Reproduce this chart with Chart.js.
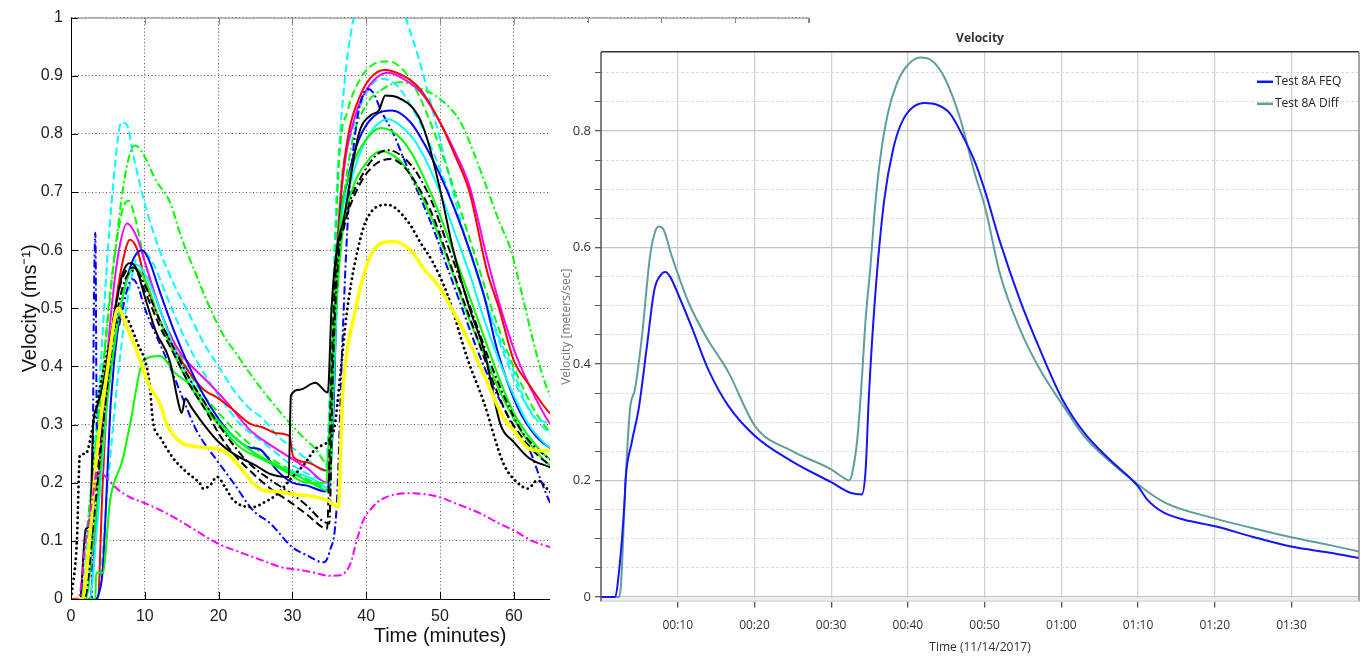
<!DOCTYPE html>
<html>
<head>
<meta charset="utf-8">
<script src="https://cdn.jsdelivr.net/npm/chart.js@4.4.0/dist/chart.umd.min.js"></script>
<style>
  body { margin: 0; background: #fff; width: 1367px; height: 662px; overflow: hidden; position: relative; }
  #left { position: absolute; left: 0; top: 0; }
  #panel { position: absolute; left: 550px; top: 23px; width: 817px; height: 639px; background: #fff; }
</style>
</head>
<body>
<canvas id="left" width="817" height="662"></canvas>
<div id="panel"><canvas id="right" width="817" height="639"></canvas></div>
<script>
// ---- left plot: measured runs (time in minutes, velocity m/s) ----
const redT = [0,3.6,4.3,4.9,6,7,8,9,10,12,14,16,18,20,22,24.3,26,28,29.6,30.1,32,34.7,35.4,35.9,36.6,37.6,39,40.5,42.5,45,47.3,50,52,54,56.4,58,60,62,65,66];
const redV = [0,0,0.2,0.35,0.5,0.58,0.618,0.6,0.55,0.48,0.43,0.39,0.36,0.345,0.325,0.301,0.295,0.285,0.28,0.245,0.235,0.221,0.3,0.55,0.7,0.8,0.86,0.895,0.91,0.9,0.877,0.82,0.764,0.7,0.563,0.5,0.41,0.37,0.318,0.31];

const magentaT = [0,2.5,3.5,4.5,5.5,6.5,7.6,9,10,12,13.4,15,18.4,21,24.3,27,29.7,32,34.7,35.5,36.2,37,38.5,40,43,45,47.5,50,52,54,56.5,58,60,62,65,66];
const magentaV = [0,0,0.15,0.35,0.5,0.6,0.646,0.62,0.58,0.5,0.455,0.42,0.375,0.34,0.29,0.265,0.243,0.225,0.2,0.35,0.62,0.74,0.83,0.875,0.905,0.895,0.87,0.82,0.77,0.71,0.58,0.51,0.43,0.37,0.3,0.29];

const magentaDdT = [0,1,2,3,3.5,4.3,6.2,8,10,13,16,19.8,23,26,28.4,31,33,35,36.5,37.9,38.7,39.6,41,41.9,44,46.4,48,50,52,55.5,58,60,62.5,65,66];
const magentaDdV = [0,0,0.1,0.18,0.22,0.215,0.19,0.175,0.165,0.147,0.125,0.096,0.08,0.066,0.055,0.05,0.045,0.04,0.041,0.062,0.1,0.135,0.16,0.17,0.18,0.182,0.18,0.175,0.165,0.147,0.13,0.118,0.1,0.089,0.085];

const blueT = [0,3.3,3.9,4.3,5.4,6.5,8,9.6,10.5,12,14,16,18,20,22,24.3,25.5,28,30,32,34.5,35.5,36.2,37.5,39,41,43.5,46,48,50,52,54,56,57.8,60.5,63,66];
const blueV = [0,0,0.015,0.05,0.34,0.48,0.57,0.6,0.585,0.53,0.46,0.4,0.35,0.31,0.28,0.26,0.258,0.22,0.2,0.195,0.185,0.3,0.6,0.72,0.79,0.83,0.84,0.82,0.78,0.73,0.67,0.6,0.52,0.426,0.33,0.28,0.25];

const blueDdT = [0,2.8,3.1,3.3,3.5,4,5,6.5,8.3,9,10,12,13.4,15,17,19.8,22,24.7,27,30,32,34.2,35,36,36.8,37.5,38.5,40.2,41,42,43.7,45,47,49,51,53,55,57,59,60.5,62,63.5,65,66];
const blueDdV = [0,0,0.5,0.63,0.3,0.28,0.38,0.47,0.55,0.54,0.5,0.44,0.4,0.35,0.29,0.238,0.2,0.152,0.13,0.089,0.075,0.063,0.08,0.16,0.45,0.65,0.8,0.877,0.87,0.84,0.8,0.76,0.7,0.64,0.57,0.5,0.43,0.37,0.32,0.28,0.26,0.21,0.164,0.15];

const cyanT = [0,2.5,3.5,5,7,9,10,12,14,16,18,20,23,26,30,33,35,35.7,36.3,38,40,43,45,47,50,52,54,56,58,60,62,64,66];
const cyanV = [0,0,0.12,0.35,0.52,0.575,0.56,0.5,0.43,0.38,0.34,0.3,0.27,0.24,0.22,0.205,0.19,0.4,0.6,0.72,0.79,0.825,0.81,0.78,0.7,0.63,0.56,0.48,0.41,0.35,0.3,0.27,0.25];

const cyanDash1T = [0,1.5,2.5,4,5,6,6.8,7.6,8.5,10,12,14,16,18,20,22,24,26,28,30,32,34.5,35.3,36,37,38.3,40,42,44,45.6,47,49,51,53,55,57,59,61,63,66];
const cyanDash1V = [0,0,0.15,0.4,0.6,0.75,0.82,0.815,0.76,0.68,0.6,0.54,0.49,0.44,0.4,0.36,0.33,0.31,0.28,0.26,0.24,0.22,0.45,0.7,0.88,1.0,1.06,1.08,1.06,0.99,0.935,0.84,0.74,0.64,0.56,0.48,0.41,0.35,0.31,0.27];

const cyanDash2T = [0,3.5,5,6.5,8,9.5,11,13,15,17,20,23,26,30,33,35,35.7,36.5,38,40,42,44,46,48,50,52,54,56,58,60,62.3,65,66];
const cyanDash2V = [0,0,0.2,0.4,0.54,0.6,0.58,0.52,0.46,0.41,0.35,0.3,0.27,0.23,0.21,0.2,0.5,0.7,0.8,0.87,0.895,0.885,0.85,0.8,0.74,0.67,0.6,0.52,0.45,0.39,0.32,0.3,0.29];

const greenDashT = [0,1.5,2.5,4,5.5,7,7.8,8.6,10,12,14,16,18,20,23,26,30,33,35,35.6,36.3,37.5,39,41,43,45,47,49,51,53,55,57,59,61,63,66];
const greenDashV = [0,0,0.12,0.35,0.55,0.67,0.685,0.66,0.58,0.5,0.44,0.39,0.35,0.32,0.28,0.25,0.22,0.2,0.19,0.5,0.75,0.84,0.89,0.92,0.925,0.91,0.87,0.81,0.74,0.66,0.58,0.5,0.43,0.37,0.32,0.27];

const greenDdT = [0,1.2,2,4,6,7.5,8.7,10,11.5,13.4,15,16.6,18.5,20.6,22.5,24.3,27.4,31,33,35,35.8,36.7,38,40,42,44.6,47,50,52.8,54.5,56.4,58,59.6,61,62.5,64,66];
const greenDdV = [0,0,0.1,0.35,0.6,0.74,0.78,0.76,0.72,0.683,0.62,0.569,0.51,0.455,0.42,0.387,0.336,0.284,0.26,0.23,0.45,0.65,0.78,0.85,0.875,0.889,0.88,0.86,0.82,0.77,0.705,0.65,0.6,0.53,0.45,0.38,0.32];

const greenT = [0,2,3,5,7,8.5,10,12,14,16,18,20,23,26,29,32,34.5,35.5,36.5,38,40,42,44,46,48,50,52,54,56,58,60,62,64,66];
const greenV = [0,0,0.1,0.35,0.52,0.57,0.55,0.48,0.42,0.37,0.33,0.3,0.26,0.24,0.22,0.2,0.2,0.45,0.65,0.74,0.79,0.81,0.8,0.77,0.72,0.66,0.59,0.52,0.45,0.38,0.32,0.28,0.25,0.23];

const greenSlowT = [0,3.3,3.4,4.3,5.3,7,8,9.8,12.1,14,16.6,19,22,25,28,31,34,35,35.7,36.7,38,40,42,44,46,48,50,52,54,56,58,60,62,64,66];
const greenSlowV = [0,0,0.045,0.045,0.17,0.24,0.3,0.41,0.418,0.39,0.363,0.32,0.28,0.25,0.23,0.21,0.19,0.185,0.45,0.62,0.7,0.75,0.77,0.76,0.73,0.68,0.62,0.55,0.48,0.42,0.36,0.31,0.27,0.24,0.22];

const blackT = [0,1.2,2,2.6,3,3.5,4.5,6,7,8,8.8,10,11.5,13.4,14.5,15,15.5,16.3,18,20,22,25,27,29.5,29.8,31,33.1,34.8,35.3,36,36.9,39,40.6,41.7,42.6,44.2,47,48.3,50,51.8,54,56,58.2,60,62,65,66];
const blackV = [0,0,0.12,0.13,0.3,0.33,0.38,0.5,0.56,0.578,0.57,0.52,0.46,0.409,0.34,0.32,0.345,0.33,0.3,0.27,0.25,0.23,0.215,0.21,0.35,0.36,0.372,0.355,0.5,0.6,0.65,0.8,0.832,0.84,0.866,0.863,0.832,0.79,0.705,0.6,0.5,0.426,0.3,0.27,0.243,0.226,0.22];

const blackDashT = [0,1.5,3,4.5,6,7.5,8.5,10,12,14,16,18,20,22,24.3,27,30,32,34.7,35.2,35.8,37,39,41,43.3,45,47,49,51,53,55,57,59,61,63,66];
const blackDashV = [0,0,0.15,0.35,0.5,0.565,0.57,0.53,0.47,0.42,0.37,0.33,0.285,0.25,0.22,0.19,0.164,0.145,0.121,0.35,0.55,0.64,0.71,0.745,0.757,0.745,0.71,0.66,0.59,0.52,0.45,0.38,0.32,0.28,0.25,0.22];

const blackDdT = [0,1.8,3.2,4.7,6.2,7.8,8.8,10,12,14,16,18,20,22,24,27,30,32,34,35,35.5,36.2,37.5,39.5,41.5,43,45,47,49,51,53,55,57,59,61,63,66];
const blackDdV = [0,0,0.15,0.34,0.49,0.56,0.565,0.54,0.48,0.43,0.38,0.34,0.3,0.265,0.235,0.205,0.18,0.16,0.135,0.13,0.4,0.58,0.67,0.73,0.765,0.772,0.76,0.73,0.68,0.61,0.54,0.47,0.4,0.34,0.29,0.26,0.23];

const blackDotT = [0,0.8,1.2,2,3,4.5,6,7,7.6,9,10.3,10.7,11.1,12.1,13.8,15.5,17.5,17.9,18.8,19.8,21,22,24.7,26,27.9,30,31.5,33.3,35.6,36.5,37.4,38.5,40.1,42.9,45.6,47.5,49,51,53.7,55.9,58.6,60.5,61.9,63.2,64.5,66];
const blackDotV = [0,0.1,0.247,0.25,0.3,0.4,0.47,0.49,0.483,0.44,0.397,0.363,0.306,0.278,0.243,0.22,0.198,0.19,0.195,0.21,0.19,0.17,0.158,0.165,0.18,0.21,0.23,0.26,0.29,0.387,0.495,0.58,0.654,0.678,0.65,0.61,0.58,0.524,0.414,0.34,0.233,0.2,0.19,0.204,0.19,0.17];

const yellowT = [0,1.5,2.5,3.5,5,6.4,7.5,8.5,9.4,10.5,12.1,13,14,15.2,17,18.4,20,21.2,23,24.7,26,28,30,32,34.7,36.2,36.8,37.4,38.3,39.5,41,43.6,46,48,49.7,52,54.1,56.5,58.6,60,61.9,63.5,65,66];
const yellowV = [0,0,0.1,0.25,0.4,0.5,0.47,0.44,0.409,0.37,0.335,0.3,0.28,0.267,0.262,0.26,0.258,0.25,0.225,0.199,0.187,0.185,0.18,0.178,0.17,0.158,0.35,0.426,0.483,0.55,0.6,0.615,0.6,0.565,0.54,0.49,0.438,0.37,0.312,0.29,0.26,0.255,0.255,0.25];

// ---- right plot: Test 8A (time in minutes from start) ----
const feqTime = [0,1.8,2.4,3.1,3.2,4.0,4.9,6.0,6.95,7.8,8.4,9.0,10.3,11.8,14.0,16.6,20.1,25.0,30.0,32.5,34.0,34.5,34.9,35.7,36.9,38.1,39.4,42.2,43.8,45.5,47.4,48.8,50.1,52.0,54.6,57.2,60.1,63.1,66.3,70.0,71.2,73.3,75.9,80.2,85.0,90.1,95.0,98.8];
const feqVel = [0,0,0.05,0.172,0.2,0.265,0.322,0.432,0.527,0.553,0.558,0.55,0.512,0.464,0.39,0.328,0.276,0.232,0.197,0.179,0.176,0.22,0.34,0.51,0.68,0.77,0.82,0.848,0.845,0.83,0.785,0.745,0.695,0.61,0.51,0.425,0.34,0.28,0.236,0.19,0.167,0.145,0.133,0.121,0.103,0.086,0.076,0.067];
const diffTime = [0,2.26,2.6,3.1,3.2,3.78,4.43,5.3,6.4,7.0,7.5,8.1,9.2,11.4,13.6,16.6,20.1,25.0,30.0,31.8,32.3,32.7,33.4,34.0,34.5,35.1,35.7,36.4,37.4,38.6,39.9,41.6,43.1,44.8,46.8,48.7,50.1,52.0,54.6,57.2,60.1,63.1,66.3,70.0,73.5,80.2,85.0,90.1,95.0,98.8];
const diffVel = [0,0,0.02,0.17,0.2,0.322,0.357,0.443,0.586,0.625,0.636,0.632,0.586,0.506,0.449,0.386,0.293,0.25,0.219,0.203,0.2,0.21,0.27,0.374,0.478,0.564,0.667,0.753,0.831,0.883,0.912,0.926,0.921,0.891,0.822,0.728,0.667,0.555,0.46,0.391,0.331,0.274,0.233,0.193,0.162,0.134,0.118,0.102,0.089,0.078];

const rightXTicks = [10, 20, 30, 40, 50, 60, 70, 80, 90];
const rightYTicks = [0, 0.05, 0.1, 0.15, 0.2, 0.25, 0.3, 0.35, 0.4, 0.45, 0.5, 0.55, 0.6, 0.65, 0.7, 0.75, 0.8, 0.85, 0.9];
const rightYLabels = [0, 0.2, 0.4, 0.6, 0.8];

const pts = (t, v) => t.map((x, i) => ({ x: x, y: v[i] }));

const DASH = [8, 4];
const DASHDOT = [8, 3, 2, 3];
const DOT = [0.1, 5];

// drawing order: first = bottom
const leftSeries = [
  { t: cyanDash1T, v: cyanDash1V, color: '#00ffff', dash: DASH },
  { t: greenDdT, v: greenDdV, color: '#00ff00', dash: DASHDOT },
  { t: greenDashT, v: greenDashV, color: '#00ff00', dash: DASH },
  { t: cyanDash2T, v: cyanDash2V, color: '#00ffff', dash: DASH },
  { t: magentaT, v: magentaV, color: '#ff00ff', dash: [] },
  { t: redT, v: redV, color: '#ff0000', dash: [] },
  { t: blueT, v: blueV, color: '#0000ff', dash: [] },
  { t: blueDdT, v: blueDdV, color: '#0000ff', dash: DASHDOT },
  { t: cyanT, v: cyanV, color: '#00ffff', dash: [] },
  { t: greenT, v: greenV, color: '#00ff00', dash: [] },
  { t: greenSlowT, v: greenSlowV, color: '#00ff00', dash: [] },
  { t: blackDdT, v: blackDdV, color: '#000000', dash: DASHDOT },
  { t: blackDashT, v: blackDashV, color: '#000000', dash: DASH },
  { t: blackT, v: blackV, color: '#000000', dash: [] },
  { t: blackDotT, v: blackDotV, color: '#000000', dash: DOT, width: 2.8 },
  { t: yellowT, v: yellowV, color: '#ffff00', dash: [], width: 3.5 },
  { t: magentaDdT, v: magentaDdV, color: '#ff00ff', dash: DASHDOT }
];

// box + inward ticks like matlab
const matlabBox = {
  id: 'matlabBox',
  afterDraw(chart) {
    const { ctx, chartArea: a, scales: { x, y } } = chart;
    ctx.save();
    ctx.lineWidth = 1;
    ctx.strokeStyle = '#888';
    ctx.beginPath();
    ctx.moveTo(a.left, a.top + 0.5);
    ctx.lineTo(a.right - 0.5, a.top + 0.5);
    ctx.lineTo(a.right - 0.5, a.bottom);
    ctx.stroke();
    x.ticks.forEach(t => {
      const px = Math.round(x.getPixelForValue(t.value)) + 0.5;
      ctx.beginPath(); ctx.moveTo(px, a.top); ctx.lineTo(px, a.top + 7); ctx.stroke();
    });
    ctx.strokeStyle = '#000';
    ctx.beginPath();
    ctx.moveTo(a.left + 0.5, a.top);
    ctx.lineTo(a.left + 0.5, a.bottom + 0.5);
    ctx.lineTo(a.right, a.bottom + 0.5);
    ctx.stroke();
    x.ticks.forEach(t => {
      const px = Math.round(x.getPixelForValue(t.value)) + 0.5;
      ctx.beginPath(); ctx.moveTo(px, a.bottom); ctx.lineTo(px, a.bottom - 7); ctx.stroke();
    });
    y.ticks.forEach(t => {
      const py = Math.round(y.getPixelForValue(t.value)) + 0.5;
      ctx.beginPath(); ctx.moveTo(a.left, py); ctx.lineTo(a.left + 7, py); ctx.stroke();
    });
    ctx.restore();
  }
};

new Chart(document.getElementById('left'), {
  type: 'line',
  data: {
    datasets: leftSeries.map(s => ({
      data: pts(s.t, s.v),
      borderColor: s.color,
      borderWidth: s.width || 2,
      borderDash: s.dash,
      borderCapStyle: s.dash === DOT ? 'round' : 'butt',
      pointRadius: 0,
      cubicInterpolationMode: 'monotone',
      fill: false
    })).reverse()
  },
  options: {
    responsive: false,
    animation: false,
    devicePixelRatio: 1,
    layout: { padding: { left: 0, top: 15, right: 2, bottom: 0 } },
    plugins: { legend: { display: false }, tooltip: { enabled: false } },
    scales: {
      x: {
        type: 'linear', min: 0, max: 100,
        afterFit: s => { s.height = 63; },
        ticks: {
          stepSize: 10, padding: 8, maxRotation: 0, autoSkip: false,
          color: '#222', font: { family: 'Liberation Sans', size: 16 },
          callback: v => (v <= 60 ? String(v) : '')
        },
        grid: { color: '#555', lineWidth: 1, drawTicks: false },
        border: { display: false, dash: [1, 2.5] },
        title: { display: true, text: 'Time (minutes)', color: '#111', font: { family: 'Liberation Sans', size: 20 }, padding: { bottom: 14 } }
      },
      y: {
        min: 0, max: 1,
        afterFit: s => { s.width = 71; },
        ticks: {
          stepSize: 0.1, padding: 8, autoSkip: false,
          color: '#222', font: { family: 'Liberation Sans', size: 16 },
          callback: v => String(+v.toFixed(1))
        },
        grid: { color: '#555', lineWidth: 1, drawTicks: false },
        border: { display: false, dash: [1, 2.5] },
        title: { display: true, text: 'Velocity (ms\u207B\u00B9)', color: '#111', font: { family: 'Liberation Sans', size: 20 }, padding: { top: 18 } }
      }
    }
  },
  plugins: [matlabBox]
});

// ---- right chart ----
const isMajor = v => rightYLabels.some(m => Math.abs(m - v) < 1e-6);
const hhmm = m => {
  const h = Math.floor(m / 60), mm = Math.round(m % 60);
  return String(h).padStart(2, '0') + ':' + String(mm).padStart(2, '0');
};

const panelFrame = {
  id: 'panelFrame',
  beforeDatasetsDraw(chart) {
    const { ctx, chartArea: a, scales: { y } } = chart;
    const y0 = y.getPixelForValue(0);
    ctx.save();
    ctx.fillStyle = '#eeeeee';
    ctx.fillRect(a.left, y0 + 1, a.right - a.left, a.bottom - y0 - 1);
    ctx.restore();
  },
  afterDraw(chart) {
    const { ctx, chartArea: a } = chart;
    ctx.save();
    ctx.lineWidth = 1.5;
    ctx.strokeStyle = '#333';
    ctx.beginPath(); ctx.moveTo(a.left, a.top); ctx.lineTo(a.right, a.top); ctx.stroke();
    ctx.strokeStyle = '#555';
    ctx.beginPath(); ctx.moveTo(a.left, a.top); ctx.lineTo(a.left, a.bottom); ctx.stroke();
    ctx.strokeStyle = '#888';
    ctx.beginPath(); ctx.moveTo(a.right, a.top); ctx.lineTo(a.right, a.bottom); ctx.stroke();
    ctx.strokeStyle = '#cfcfcf';
    ctx.lineWidth = 1;
    ctx.beginPath(); ctx.moveTo(a.left, a.bottom - 0.5); ctx.lineTo(a.right, a.bottom - 0.5); ctx.stroke();
    // legend, top right inside the plot
    ctx.font = '12px "Open Sans"';
    ctx.textBaseline = 'middle';
    ctx.fillStyle = '#222';
    chart.data.datasets.forEach((ds, i) => {
      const ly = a.top + 30 + i * 22;
      ctx.strokeStyle = ds.borderColor;
      ctx.lineWidth = 2.5;
      ctx.beginPath(); ctx.moveTo(a.right - 102, ly); ctx.lineTo(a.right - 86, ly); ctx.stroke();
      ctx.fillText(ds.label, a.right - 84, ly);
    });
    ctx.restore();
  }
};

new Chart(document.getElementById('right'), {
  type: 'line',
  data: {
    datasets: [
      { label: 'Test 8A FEQ', data: pts(feqTime, feqVel), borderColor: '#1414ff', borderWidth: 2, pointRadius: 0, cubicInterpolationMode: 'monotone' },
      { label: 'Test 8A Diff', data: pts(diffTime, diffVel), borderColor: '#5f9e9e', borderWidth: 2, pointRadius: 0, cubicInterpolationMode: 'monotone' }
    ]
  },
  options: {
    responsive: false,
    animation: false,
    devicePixelRatio: 1,
    layout: { padding: { left: 0, top: 0, right: 8, bottom: 0 } },
    plugins: {
      legend: { display: false },
      tooltip: { enabled: false },
      title: {
        display: true, text: 'Velocity', fullSize: false, color: '#333',
        font: { family: 'Open Sans', size: 12, weight: 'bold' },
        padding: { top: 8.5, bottom: 5.9 }
      }
    },
    scales: {
      x: {
        type: 'linear', min: 0, max: 98.8,
        afterFit: s => { s.height = 60.4; },
        afterBuildTicks: s => { s.ticks = rightXTicks.map(v => ({ value: v })); },
        ticks: { padding: 11, maxRotation: 0, autoSkip: false, color: '#333', font: { family: 'Open Sans', size: 12 }, callback: v => hhmm(v) },
        grid: { color: '#d2d2d2', lineWidth: 1.3, tickColor: '#555', tickLength: 6 },
        border: { display: false },
        title: { display: true, text: 'Time (11/14/2017)', color: '#333', font: { family: 'Open Sans', size: 12 }, padding: { bottom: 6.8 } }
      },
      y: {
        min: -0.008, max: 0.936,
        afterFit: s => { s.width = 51; },
        afterBuildTicks: s => { s.ticks = rightYTicks.map(v => ({ value: v })); },
        ticks: { padding: 4, autoSkip: false, color: '#333', font: { family: 'Open Sans', size: 13 }, callback: v => (isMajor(v) ? String(+v.toFixed(1)) : '') },
        grid: {
          color: c => (c.tick && isMajor(c.tick.value) ? '#c4c4c4' : '#dddddd'),
          lineWidth: c => (c.tick && isMajor(c.tick.value) ? 1.3 : 1),
          tickColor: '#555', tickLength: 6
        },
        border: { display: false, dash: c => (c.tick && !isMajor(c.tick.value) ? [3, 2] : []) },
        title: { display: true, text: 'Velocity [meters/sec]', color: '#777', font: { family: 'Open Sans', size: 12 }, padding: { top: 9 } }
      }
    }
  },
  plugins: [panelFrame]
});
</script>
</body>
</html>
